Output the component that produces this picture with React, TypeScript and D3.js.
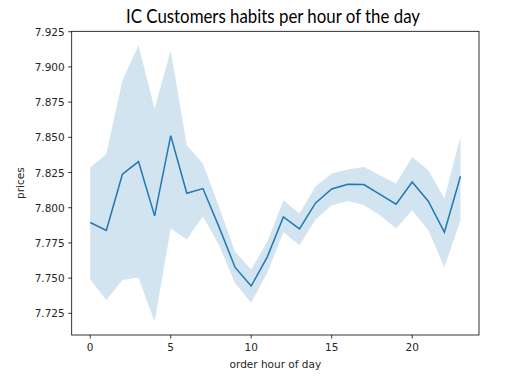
import React from 'react';
import * as d3 from 'd3';

const WIDTH = 521;
const HEIGHT = 385;

const hours = [0, 1, 2, 3, 4, 5, 6, 7, 8, 9, 10, 11, 12, 13, 14, 15, 16, 17, 18, 19, 20, 21, 22, 23];
const meanPrice = [
  7.7895, 7.7839, 7.8238, 7.8328, 7.7942, 7.8512, 7.8103, 7.8136, 7.7864, 7.7576, 7.7444, 7.7651,
  7.7934, 7.785, 7.8034, 7.8133, 7.8167, 7.8165, 7.8094, 7.8025, 7.8183, 7.8046, 7.7826, 7.8223
];
const upperCI = [
  7.8285, 7.838, 7.8904, 7.9154, 7.8703, 7.9117, 7.8443, 7.8314, 7.8006, 7.7687, 7.7562, 7.7758,
  7.8053, 7.7959, 7.8153, 7.8243, 7.8271, 7.8289, 7.823, 7.8172, 7.836, 7.8266, 7.8065, 7.8505
];
const lowerCI = [
  7.7491, 7.7344, 7.7486, 7.7505, 7.719, 7.7853, 7.7775, 7.794, 7.7734, 7.7463, 7.7325, 7.7538,
  7.7826, 7.7734, 7.7916, 7.8018, 7.8048, 7.8018, 7.7947, 7.7853, 7.7982, 7.7841, 7.7576, 7.7912
];
const xTicks = [0, 5, 10, 15, 20];
const yTicks = [7.725, 7.75, 7.775, 7.8, 7.825, 7.85, 7.875, 7.9, 7.925];

const LEFT = 71.7;
const RIGHT = 479;
const TOP = 31.3;
const BOTTOM = 335;

export default function App() {
  const x = d3.scaleLinear().domain([-1.15, 24.15]).range([LEFT, RIGHT]);
  const y = d3.scaleLinear().domain([7.7096, 7.9253]).range([BOTTOM, TOP]);

  const band = d3.area<number>()
    .x(i => x(hours[i]))
    .y0(i => y(lowerCI[i]))
    .y1(i => y(upperCI[i]));
  const line = d3.line<number>()
    .x(i => x(hours[i]))
    .y(i => y(meanPrice[i]));
  const idx = hours.map((_, i) => i);

  const tickFont = { fontFamily: 'DejaVu Sans', fontSize: 10.5, fill: '#262626' };

  return (
    <svg
      width={WIDTH}
      height={HEIGHT}
      style={{ position: 'absolute', left: 0, top: 0, background: '#fff' }}
    >
      <text
        x={273}
        y={22.5}
        textAnchor="middle"
        textLength={294}
        lengthAdjust="spacingAndGlyphs"
        style={{ fontFamily: 'Lato', fontSize: 19, fill: '#000' }}
      >
        IC Customers habits per hour of the day
      </text>

      <path d={band(idx) || ''} fill="#1f77b4" fillOpacity={0.2} />
      <path d={line(idx) || ''} fill="none" stroke="#1f77b4" strokeWidth={1.5} />

      <rect
        x={LEFT}
        y={TOP}
        width={RIGHT - LEFT}
        height={BOTTOM - TOP}
        fill="none"
        stroke="#000"
        strokeWidth={0.8}
      />

      {xTicks.map(t => (
        <g key={t}>
          <line x1={x(t)} x2={x(t)} y1={BOTTOM} y2={BOTTOM + 3.5} stroke="#000" strokeWidth={0.8} />
          <text x={x(t)} y={BOTTOM + 16} textAnchor="middle" style={tickFont}>{t}</text>
        </g>
      ))}
      {yTicks.map(t => (
        <g key={t}>
          <line x1={LEFT - 3.5} x2={LEFT} y1={y(t)} y2={y(t)} stroke="#000" strokeWidth={0.8} />
          <text x={LEFT - 7} y={y(t) + 4} textAnchor="end" style={tickFont}>{d3.format('.3f')(t)}</text>
        </g>
      ))}

      <text x={(LEFT + RIGHT) / 2} y={368} textAnchor="middle" style={tickFont}>
        order hour of day
      </text>
      <text
        transform={`translate(24, ${(TOP + BOTTOM) / 2}) rotate(-90)`}
        textAnchor="middle"
        style={tickFont}
      >
        prices
      </text>
    </svg>
  );
}
